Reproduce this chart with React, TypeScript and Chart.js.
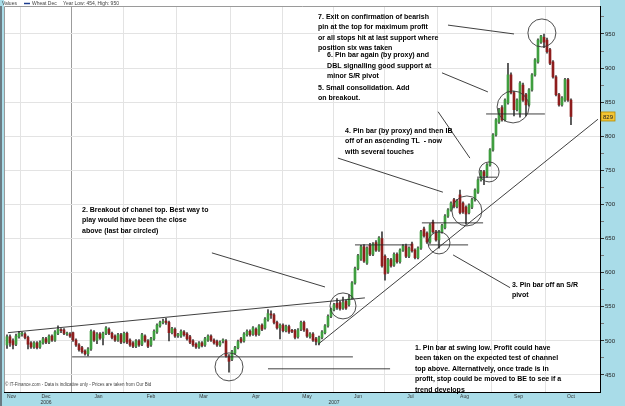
import React, { useEffect, useRef } from 'react';
import Chart from 'chart.js/auto';

// ---- price data (daily bars, index = trading day from late Nov 2006) ----
const opens = [494,506,500,495,506,510,510,505,497,491,497,491,497,503,498,507,501,511,516,516,510,510,512,501,494,490,485,481,488,513,501,510,504,511,517,511,507,501,509,499,511,501,497,492,500,495,507,500,494,503,513,522,527,529,527,512,517,508,507,513,510,506,500,495,491,497,494,501,507,501,499,494,500,500,477,473,482,490,503,500,509,514,510,517,510,523,519,531,539,538,527,519,523,515,521,515,515,506,517,527,516,506,510,503,497,505,512,522,536,546,555,556,548,558,553,563,585,606,620,638,614,640,627,644,633,650,624,601,619,611,627,616,633,639,624,642,633,622,636,664,658,645,674,660,648,660,666,683,692,707,697,714,702,696,688,696,707,718,736,748,742,758,780,802,821,842,824,849,890,864,839,834,875,861,846,868,890,909,938,945,941,927,909,887,861,846,853,883,853];
const highs = [509,509,503,510,514,513,512,507,499,499,499,500,505,505,509,509,515,522,518,518,513,512,513,503,496,492,487,490,516,515,512,512,513,521,519,513,509,511,511,513,513,503,499,502,502,511,509,502,505,516,525,529,532,533,529,520,519,511,516,515,512,508,502,497,499,499,505,509,509,503,501,500,503,502,480,486,492,501,505,512,516,516,521,519,524,525,534,546,544,540,529,525,525,523,523,517,517,518,529,529,518,512,512,505,507,515,524,538,548,555,562,558,564,560,568,587,608,627,640,641,638,643,644,647,653,660,626,621,621,629,629,635,641,642,638,645,635,638,662,667,660,672,677,662,662,671,685,694,704,709,707,721,704,698,701,709,723,738,750,750,760,782,804,826,841,845,855,907,893,866,855,880,878,863,870,892,914,943,948,950,944,929,911,889,863,858,885,885,855];
const lows = [489,492,488,493,504,507,503,488,489,489,488,489,495,496,496,499,499,509,512,509,508,505,499,492,485,482,479,478,486,499,496,502,494,509,509,503,499,499,496,497,496,492,490,490,492,493,498,490,492,501,511,520,525,524,500,510,505,505,505,507,501,496,492,489,489,491,492,499,499,495,492,492,497,476,454,471,480,488,497,498,507,507,508,507,508,515,517,529,533,525,517,503,513,513,511,512,503,504,515,514,505,504,499,494,494,503,510,520,534,544,546,545,546,546,551,561,583,604,618,615,612,625,625,631,631,608,589,599,608,609,614,614,631,622,622,630,620,620,634,652,643,643,658,646,636,658,664,681,690,695,695,686,687,671,686,694,705,716,734,729,740,756,778,800,819,822,822,847,862,830,837,828,851,830,844,866,888,907,936,930,922,905,885,859,844,844,851,851,817];
const closes = [506,497,494,507,511,511,505,495,491,497,490,498,503,498,507,501,513,517,515,511,511,507,501,494,487,484,481,488,514,501,510,504,511,519,511,505,501,509,498,511,498,494,492,500,494,509,500,492,503,514,523,527,528,527,512,518,507,509,514,509,503,498,494,491,497,493,503,507,501,497,494,498,501,478,470,484,490,499,499,510,514,509,519,509,522,517,532,540,538,527,519,523,515,521,513,514,505,516,527,516,507,510,501,499,505,513,522,536,546,553,549,547,556,548,562,585,606,625,638,617,636,627,642,633,651,610,598,619,610,627,616,633,639,624,636,632,622,636,660,654,645,670,660,648,660,669,683,692,702,697,705,688,689,686,699,707,721,736,748,742,758,780,802,824,839,824,853,890,864,839,853,878,853,846,868,890,912,941,947,938,924,907,887,861,846,856,883,853,829];

// ---- axis positions (in trading-day index units) ----
const monthStarts = [4.5, 21.5, 39, 56.5, 74.5, 92, 109, 126, 143.5, 161.5, 179.5];
const yearStartIdx = 21.5;
const monthNames = ['Nov', 'Dec', 'Jan', 'Feb', 'Mar', 'Apr', 'May', 'Jun', 'Jul', 'Aug', 'Sep', 'Oct'];
const monthMids = [1.5, 13, 30.5, 48, 65.5, 83, 100, 117, 134.5, 152.5, 170.5, 188];
const yearNames = ['2006', '2007'];
const yearPos = [13, 109];
const priceTicks = [450, 475, 500, 525, 550, 575, 600, 625, 650, 675, 700, 725, 750, 775, 800, 825, 850, 875, 900, 925, 950, 975];

// ---- annotations (data units: x = bar index, y = price) ----
const trendLines = [
  [0.3, 512, 119.3, 563],
  [103.7, 495, 197, 825],
  [21.7, 476.5, 115.3, 476.5],
  [87, 459, 127.7, 459],
  [116, 640.7, 135, 640.7],
  [140.3, 640.7, 153.7, 640.7],
  [138.3, 673, 158.7, 673],
  [156.7, 740, 163.3, 740],
  [159.7, 832.7, 179.3, 832.7],
];
const pointerLines = [
  [68.3, 629, 106, 579],
  [110.3, 768, 145.3, 718],
  [148.7, 626, 167.7, 578],
  [145, 893, 160.3, 865],
  [147, 963, 169, 950],
  [143.7, 836, 154.3, 768],
];
const circles = [
  [74, 461.8, 14],
  [112, 551.2, 13],
  [144, 643.6, 11],
  [153.3, 690.5, 15],
  [160.7, 747.7, 10],
  [168.7, 843, 16],
  [178.3, 951.5, 14],
];
const notes = [
  { x: 103.7, y: 975, lines: ['7. Exit on confirmation of bearish', 'pin at the top for maximum profit', 'or all stops hit at last support where', 'position six was taken'] },
  { x: 106.7, y: 919, lines: ['6. Pin bar again (by proxy) and', 'DBL signalling good support at', 'minor S/R pivot'] },
  { x: 103.7, y: 871, lines: ['5. Small consolidation. Add', 'on breakout.'] },
  { x: 112.7, y: 808, lines: ['4. Pin bar (by proxy) and then IB', 'off of an ascending TL  - now', 'with several touches'] },
  { x: 25, y: 692, lines: ['2. Breakout of chanel top. Best way to', 'play would have been the close', 'above (last bar circled)'] },
  { x: 168.3, y: 582, lines: ['3. Pin bar off an S/R', 'pivot'] },
  { x: 136, y: 490, lines: ['1. Pin bar at swing low. Profit could have', 'been taken on the expected test of channel', 'top above. Alternatively, once trade is in', 'profit, stop could be moved to BE to see if a', 'trend develops'] },
];

const SANS = '"Liberation Sans", Arial, sans-serif';
const BG_BLUE = '#a9dce8';
const UP = '#3f9e3f';
const DOWN = '#8e1d1d';

const labelTicks = [
  ...monthNames.map((m, i) => ({ value: monthMids[i], label: yearPos.indexOf(monthMids[i]) >= 0 ? [m, yearNames[yearPos.indexOf(monthMids[i])]] : m })),
  ...yearPos.filter((p) => monthMids.indexOf(p) < 0).map((p) => ({ value: p, label: ['', yearNames[yearPos.indexOf(p)]] })),
];

const notesPlugin = {
  id: 'notesPlugin',
  beforeDraw(chart: any) {
    const { ctx, chartArea } = chart;
    ctx.save();
    ctx.fillStyle = BG_BLUE;
    ctx.fillRect(0, 0, chart.width, chart.height);
    ctx.fillStyle = '#ffffff';
    ctx.fillRect(4, 0, chartArea.right - 4, chartArea.bottom);
    ctx.fillStyle = '#6b7b83';
    ctx.fillRect(0, chartArea.top, 2, chart.height - chartArea.top);
    ctx.restore();
  },
  afterDatasetsDraw(chart: any) {
    const { ctx, scales } = chart;
    const xs = scales.x;
    const ys = scales.y;
    const px = (v: number) => xs.getPixelForValue(v);
    const py = (v: number) => ys.getPixelForValue(v);
    ctx.save();
    ctx.strokeStyle = '#2a2a2a';
    ctx.lineWidth = 0.9;
    [...trendLines, ...pointerLines].forEach(([x1, y1, x2, y2]) => {
      ctx.beginPath();
      ctx.moveTo(px(x1), py(y1));
      ctx.lineTo(px(x2), py(y2));
      ctx.stroke();
    });
    ctx.strokeStyle = '#3a3a3a';
    circles.forEach(([cx, cy, r]) => {
      ctx.beginPath();
      ctx.arc(px(cx), py(cy), r, 0, Math.PI * 2);
      ctx.stroke();
    });
    ctx.fillStyle = '#000';
    ctx.font = `bold 7px ${SANS}`;
    ctx.textBaseline = 'middle';
    ctx.textAlign = 'left';
    notes.forEach((n) => {
      n.lines.forEach((t, k) => ctx.fillText(t, px(n.x), py(n.y) + k * 10.5));
    });
    ctx.font = `4.5px ${SANS}`;
    ctx.fillStyle = '#444';
    ctx.fillText('\u00a9 IT-Finance.com - Data is indicative only - Prices are taken from Our Bid', 5, chart.chartArea.bottom - 7);
    ctx.restore();
  },
  afterDraw(chart: any) {
    const { ctx, chartArea, scales } = chart;
    ctx.save();
    ctx.strokeStyle = '#9a9a9a';
    ctx.lineWidth = 1;
    ctx.beginPath();
    ctx.moveTo(4.5, chartArea.bottom);
    ctx.lineTo(4.5, chartArea.top + 0.5);
    ctx.lineTo(chartArea.right, chartArea.top + 0.5);
    ctx.stroke();
    // header
    ctx.font = `5px ${SANS}`;
    ctx.fillStyle = '#444';
    ctx.textBaseline = 'middle';
    ctx.fillText('Values', 2, 3.5);
    ctx.strokeStyle = '#1d3d8f';
    ctx.lineWidth = 1.5;
    ctx.beginPath();
    ctx.moveTo(24, 3.5);
    ctx.lineTo(30, 3.5);
    ctx.stroke();
    ctx.fillText('Wheat Dec', 32, 3.5);
    ctx.fillText(`Year Low: ${Math.min(...lows)}, High: ${Math.max(...highs)}`, 63, 3.5);
    // last price badge
    const last = closes[closes.length - 1];
    const yb = scales.y.getPixelForValue(last);
    ctx.fillStyle = '#f3c534';
    ctx.strokeStyle = '#b48a00';
    ctx.lineWidth = 0.8;
    ctx.fillRect(chartArea.right + 1, yb - 4.5, 14, 9);
    ctx.strokeRect(chartArea.right + 1, yb - 4.5, 14, 9);
    ctx.fillStyle = '#222';
    ctx.font = `6px ${SANS}`;
    ctx.textAlign = 'center';
    ctx.fillText(String(last), chartArea.right + 8, yb + 0.5);
    ctx.restore();
  },
};

export default function App() {
  const ref = useRef<HTMLCanvasElement | null>(null);
  useEffect(() => {
    if (!ref.current) return;
    const wicks = lows.map((l, i) => ({ x: i, y: [l, highs[i]] }));
    const bodies = opens.map((o, i) => ({ x: i, y: [o, closes[i]] }));
    const bodyColors = opens.map((o, i) => (closes[i] >= o ? UP : DOWN));
    const chart = new Chart(ref.current, {
      type: 'bar',
      data: {
        datasets: [
          {
            data: wicks as any,
            backgroundColor: '#3c3c3c',
            barThickness: 1,
            grouped: false,
            order: 2,
          } as any,
          {
            data: bodies as any,
            backgroundColor: bodyColors,
            barThickness: 2,
            minBarLength: 1,
            grouped: false,
            order: 1,
          } as any,
        ],
      },
      plugins: [notesPlugin],
      options: {
        animation: false,
        responsive: false,
        maintainAspectRatio: false,
        layout: { padding: { top: 6, left: 4, right: 0, bottom: 0 } },
        plugins: { legend: { display: false }, tooltip: { enabled: false }, title: { display: false } },
        scales: {
          x: {
            type: 'linear',
            position: 'bottom',
            min: -1,
            max: 197.67,
            offset: false,
            weight: 0,
            afterBuildTicks: (s: any) => { s.ticks = monthStarts.map((v) => ({ value: v })); },
            afterFit: (s: any) => { s.height = 0; },
            ticks: { display: false, autoSkip: false, maxRotation: 0, minRotation: 0 },
            grid: {
              offset: false,
              drawTicks: false,
              color: (c: any) => (c.tick && c.tick.value === yearStartIdx ? '#9c9c9c' : '#e3e3e3'),
              lineWidth: 1,
            },
            border: { display: true, color: '#000', width: 1 },
          },
          xLabels: {
            type: 'linear',
            position: 'bottom',
            min: -1,
            max: 197.67,
            offset: false,
            weight: 1,
            afterBuildTicks: (s: any) => { s.ticks = labelTicks.map((t) => ({ value: t.value })); },
            afterFit: (s: any) => { s.height = 14; },
            grid: { display: false, drawTicks: false, offset: false },
            border: { display: false },
            ticks: {
              autoSkip: false,
              maxRotation: 0,
              minRotation: 0,
              padding: 2,
              color: '#333',
              font: { size: 5, family: SANS, lineHeight: 1.2 },
              callback: (_v: any, i: number) => labelTicks[i].label,
            },
          },
          y: {
            type: 'linear',
            position: 'right',
            min: 425,
            max: 991,
            afterBuildTicks: (s: any) => { s.ticks = priceTicks.map((v) => ({ value: v })); },
            afterFit: (s: any) => { s.width = 25; },
            grid: {
              color: (c: any) => (c.tick && c.tick.value % 50 === 0 ? '#e3e3e3' : 'rgba(0,0,0,0)'),
              tickColor: (c: any) => (c.tick && c.tick.value % 50 === 0 ? '#333' : '#777'),
              tickLength: 4,
            },
            border: { display: true, color: '#000', width: 1 },
            ticks: {
              autoSkip: false,
              padding: 1,
              color: '#222',
              font: { size: 6, family: SANS },
              callback: (v: any) => (Number(v) % 50 === 0 ? String(v) : ''),
            },
          },
        },
      } as any,
    });
    return () => chart.destroy();
  }, []);
  return (
    <div style={{ position: 'fixed', left: 0, top: 0, width: 625, height: 406 }}>
      <canvas ref={ref} width={625} height={406} style={{ display: 'block', width: 625, height: 406 }} />
    </div>
  );
}
